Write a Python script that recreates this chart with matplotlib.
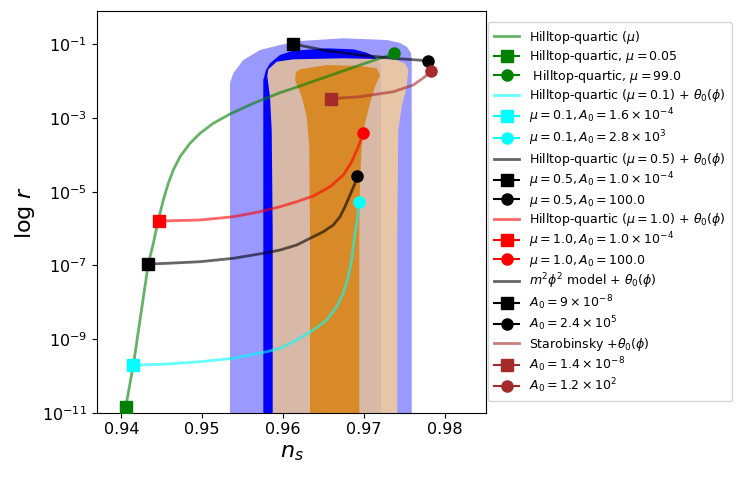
import numpy as np
import matplotlib
matplotlib.use("Agg")
import matplotlib.pyplot as plt

# ---------------- data (ns, log10 r) ----------------
# Hilltop-quartic (mu) curve
hq_ns   = [0.940544, 0.941483, 0.943337, 0.943956, 0.944574, 0.945192, 0.945810,
           0.946428, 0.947256, 0.948492, 0.949728, 0.951372, 0.953436, 0.956316,
           0.959617, 0.961261, 0.965389, 0.969506, 0.972806, 0.973745]
hq_logr = [-10.845, -9.713, -6.964, -6.402, -5.769, -5.226, -4.773,
           -4.412, -4.051, -3.687, -3.416, -3.144, -2.892, -2.602,
           -2.314, -2.194, -1.879, -1.562, -1.318, -1.244]

# Hilltop-quartic (mu=0.1) + theta0
c01_ns   = [0.941483, 0.945612, 0.949728, 0.953844, 0.957973, 0.959617, 0.961681,
            0.963733, 0.965389, 0.966626, 0.967442, 0.968059, 0.968480, 0.968677,
            0.968888, 0.969172, 0.969295, 0.969345]
c01_logr = [-9.713, -9.678, -9.616, -9.523, -9.344, -9.252, -9.027,
            -8.755, -8.484, -8.123, -7.759, -7.308, -6.855, -6.494,
            -6.130, -5.769, -5.498, -5.273]

# Hilltop-quartic (mu=0.5) + theta0
c05_ns   = [0.943337, 0.945612, 0.949728, 0.953844, 0.957973, 0.959617, 0.961681,
            0.963325, 0.964969, 0.966205, 0.967033, 0.967651, 0.968270, 0.968888,
            0.969172]
c05_logr = [-6.964, -6.945, -6.901, -6.809, -6.657, -6.584, -6.448,
            -6.266, -6.087, -5.905, -5.680, -5.408, -5.091, -4.773,
            -4.567]

# Hilltop-quartic (mu=1.0) + theta0
c10_ns   = [0.944623, 0.949728, 0.953844, 0.957145, 0.959617, 0.961681, 0.963733,
            0.965797, 0.967442, 0.968480, 0.969295, 0.969913]
c10_logr = [-5.796, -5.769, -5.680, -5.544, -5.408, -5.273, -5.118,
            -4.865, -4.548, -4.187, -3.780, -3.400]

# m^2 phi^2 + theta0
m2_ns   = [0.961261, 0.965389, 0.969506, 0.973622, 0.977874]
m2_logr = [-0.992, -1.174, -1.290, -1.380, -1.445]

# Starobinsky + theta0
st_ns   = [0.965884, 0.969506, 0.973622, 0.976094, 0.977540, 0.978245]
st_logr = [-2.477, -2.422, -2.287, -2.105, -1.879, -1.717]

# Observational contours (boundary polygons)
cl_ns   = [0.953436, 0.953436, 0.953844, 0.955080, 0.957145, 0.959617, 0.962089,
           0.967404, 0.972843, 0.974450, 0.975315, 0.975810, 0.975896, 0.975896]
cl_logr = [-12.0, -2.050, -1.787, -1.426, -1.155, -1.019, -0.910,
           -0.837, -0.883, -0.965, -1.073, -1.236, -1.426, -12.0]

cb_ns   = [0.957553, 0.957553, 0.957886, 0.958381, 0.959617, 0.961224, 0.965389,
           0.968677, 0.970334, 0.971360, 0.972102, 0.972102]
cb_logr = [-12.0, -1.969, -1.698, -1.516, -1.290, -1.174, -1.109,
           -1.136, -1.228, -1.345, -1.562, -12.0]

cp_ns   = [0.958714, 0.958714, 0.958591, 0.958381, 0.958047, 0.958171, 0.959209,
           0.961261, 0.967441, 0.973622, 0.975068, 0.975476, 0.975278, 0.974660,
           0.974240, 0.974116, 0.974116]
cp_logr = [-12.0, -6.041, -3.326, -2.422, -1.860, -1.679, -1.472,
           -1.407, -1.380, -1.407, -1.516, -1.698, -2.151, -2.694,
           -3.326, -6.041, -12.0]

co_ns   = [0.963325, 0.963325, 0.963239, 0.962917, 0.962299, 0.961471, 0.961595,
           0.962089, 0.965389, 0.969506, 0.971570, 0.971978, 0.971360, 0.970742,
           0.970124, 0.969716, 0.969506, 0.969419, 0.969419]
co_logr = [-12.0, -6.041, -3.780, -2.965, -2.422, -1.969, -1.752,
           -1.679, -1.562, -1.589, -1.651, -1.833, -2.151, -2.602,
           -3.144, -3.780, -4.683, -6.041, -12.0]

yticks_exp = [-1, -3, -5, -7, -9, -11]

# ---------------- figure ----------------
fig = plt.figure(figsize=(7.47, 4.83), dpi=100)
ax = fig.add_axes([0.1299, 0.1455, 0.5207, 0.8317])
ax.set_yscale('log')

def pw(v):
    return [10.0 ** t for t in v]

ax.fill(cl_ns, pw(cl_logr), color='blue', alpha=0.4, lw=0, zorder=1)
ax.fill(cb_ns, pw(cb_logr), color='blue', lw=0, zorder=1.1)
ax.fill(cp_ns, pw(cp_logr), color=(238.5/255, 203.4/255, 157.2/255), alpha=0.91, lw=0, zorder=1.2)
ax.fill(co_ns, pw(co_logr), color='#d78a27', lw=0, zorder=1.3)

ms = 8
lw = 2
ax.plot(hq_ns, pw(hq_logr), color='green', alpha=0.6, lw=lw, zorder=2,
        label=r'Hilltop-quartic ($\mu$)')
ax.plot([hq_ns[0]], [10**hq_logr[0]], 's-', color='green', ms=ms, zorder=3,
        label=r'Hilltop-quartic, $\mu = 0.05$')
ax.plot([hq_ns[-1]], [10**hq_logr[-1]], 'o-', color='green', ms=ms, zorder=3,
        label=r' Hilltop-quartic, $\mu = 99.0$')

ax.plot(c01_ns, pw(c01_logr), color='cyan', alpha=0.6, lw=lw, zorder=2,
        label=r'Hilltop-quartic ($\mu = 0.1$) + $\theta_0(\phi)$')
ax.plot([c01_ns[0]], [10**c01_logr[0]], 's-', color='cyan', ms=ms, zorder=3,
        label=r'$\mu = 0.1, A_0 = 1.6 \times 10^{-4}$')
ax.plot([c01_ns[-1]], [10**c01_logr[-1]], 'o-', color='cyan', ms=ms, zorder=3,
        label=r'$\mu = 0.1, A_0 = 2.8 \times 10^{3}$')

ax.plot(c05_ns, pw(c05_logr), color='black', alpha=0.6, lw=lw, zorder=2,
        label=r'Hilltop-quartic ($\mu = 0.5$) + $\theta_0(\phi)$')
ax.plot([c05_ns[0]], [10**c05_logr[0]], 's-', color='black', ms=ms, zorder=3,
        label=r'$\mu = 0.5, A_0 = 1.0 \times 10^{-4}$')
ax.plot([c05_ns[-1]], [10**c05_logr[-1]], 'o-', color='black', ms=ms, zorder=3,
        label=r'$\mu = 0.5, A_0 = 100.0$')

ax.plot(c10_ns, pw(c10_logr), color='red', alpha=0.6, lw=lw, zorder=2,
        label=r'Hilltop-quartic ($\mu = 1.0$) + $\theta_0(\phi)$')
ax.plot([c10_ns[0]], [10**c10_logr[0]], 's-', color='red', ms=ms, zorder=3,
        label=r'$\mu = 1.0, A_0 = 1.0 \times 10^{-4}$')
ax.plot([c10_ns[-1]], [10**c10_logr[-1]], 'o-', color='red', ms=ms, zorder=3,
        label=r'$\mu = 1.0, A_0 = 100.0$')

ax.plot(m2_ns, pw(m2_logr), color='black', alpha=0.6, lw=lw, zorder=2,
        label=r'$m^2\phi^2$ model + $\theta_0(\phi)$')
ax.plot([m2_ns[0]], [10**m2_logr[0]], 's-', color='black', ms=ms, zorder=3,
        label=r'$A_0 = 9 \times 10^{-8}$')
ax.plot([m2_ns[-1]], [10**m2_logr[-1]], 'o-', color='black', ms=ms, zorder=3,
        label=r'$A_0 = 2.4 \times 10^{5}$')

ax.plot(st_ns, pw(st_logr), color='brown', alpha=0.6, lw=lw, zorder=2,
        label=r'Starobinsky +$\theta_0(\phi)$')
ax.plot([st_ns[0]], [10**st_logr[0]], 's-', color='brown', ms=ms, zorder=3,
        label=r'$A_0 = 1.4 \times 10^{-8}$')
ax.plot([st_ns[-1]], [10**st_logr[-1]], 'o-', color='brown', ms=ms, zorder=3,
        label=r'$A_0 = 1.2 \times 10^{2}$')

ax.set_xlim(0.937, 0.98508)
ax.set_ylim(1e-11, 10 ** -0.096)
ax.set_xticks([0.94, 0.95, 0.96, 0.97, 0.98])
ax.set_yticks([10.0 ** e for e in yticks_exp])
ax.yaxis.set_minor_locator(matplotlib.ticker.NullLocator())
ax.tick_params(labelsize=11.5)
ax.set_xlabel(r'$n_s$', fontsize=16)
ax.set_ylabel(r'log $r$', fontsize=16)

ax.legend(loc='center left', bbox_to_anchor=(1.0, 0.5), fontsize=9,
          borderaxespad=0.15, labelspacing=0.2, borderpad=0.5)

fig.savefig('out.png', dpi=100)
